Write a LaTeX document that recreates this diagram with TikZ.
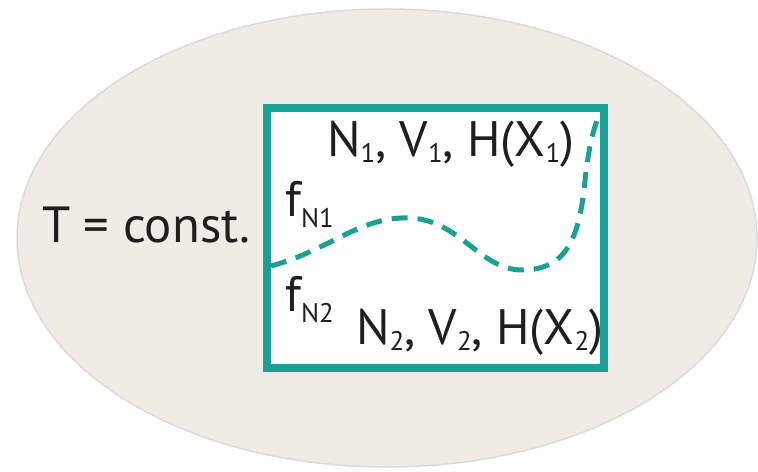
\documentclass[tikz,border=0pt]{standalone}
\usepackage{fontspec}
\setmainfont{PT Sans}
\usetikzlibrary{positioning}
\definecolor{boxTeal}{HTML}{1AA094}
\definecolor{bathFill}{HTML}{EFECE5}
\newcommand{\lowidx}[2]{\raisebox{-#1}{\fontsize{27}{27}\selectfont #2}}

\begin{document}
\begin{tikzpicture}[
    x=1bp, y=-1bp,
    bath/.style={fill=bathFill,draw=black!14,line width=1.5bp},
    cell/.style={draw=boxTeal,fill=white,line width=8.5bp,inner sep=0pt,
                 minimum width=337bp,minimum height=260bp},
    interface/.style={draw=boxTeal,line width=5bp,dash pattern=on 16bp off 10bp},
    lbl/.style={inner sep=0pt,anchor=base west,text=black!88,
                font=\fontsize{50}{56}\selectfont}
]
    \useasboundingbox (0,0) rectangle (758,472);
    \draw[bath] (387,238) ellipse [x radius=370bp, y radius=229bp];

    \node[cell] (box) at (435.5,238) {};

    % phase boundary
    \draw[interface] (271,266) .. controls (330,250) and (360,216) .. (410,218)
        .. controls (460,220) and (480,270) .. (522,270)
        .. controls (565,270) and (578,240) .. (584,190)
        .. controls (588,150) and (593,128) .. (600,114);

    \node[lbl,font=\fontsize{51}{56}\selectfont] (temp) at (42,243) {T = const.};
    \node[lbl] (phase1) at (327,157) {N\lowidx{6bp}{1}, V\lowidx{6bp}{1}, H(X\lowidx{6bp}{1})};
    \node[lbl] (phase2) at (356,345) {N\lowidx{6bp}{2}, V\lowidx{6bp}{2}, H(X\lowidx{6bp}{2})};
    \node[lbl] (f1) at (285,217) {f\lowidx{11bp}{N1}};
    \node[lbl] (f2) at (285,312) {f\lowidx{11bp}{N2}};
\end{tikzpicture}
\end{document}
